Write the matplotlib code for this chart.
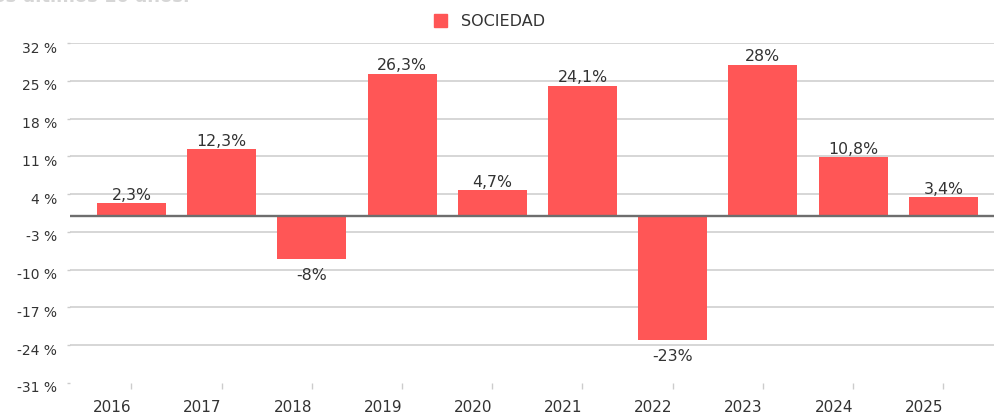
import matplotlib
matplotlib.use("Agg")
import matplotlib.pyplot as plt
import matplotlib.transforms as mtransforms
import numpy as np

years = ["2016", "2017", "2018", "2019", "2020", "2021", "2022", "2023", "2024", "2025"]
values = [2.3, 12.3, -8, 26.3, 4.7, 24.1, -23, 28, 10.8, 3.4]
labels = ["2,3%", "12,3%", "-8%", "26,3%", "4,7%", "24,1%", "-23%", "28%", "10,8%", "3,4%"]
yticks = [32, 25, 18, 11, 4, -3, -10, -17, -24, -31]
series_name = "SOCIEDAD"

plt.rcParams['font.family'] = ['DejaVu Sans']

W, H = 995, 414
fig = plt.figure(figsize=(W / 100, H / 100), dpi=100)
ax_left, ax_right, ax_top, ax_bot = 70, 995, 44, 384
ax = fig.add_axes([ax_left / W, 1 - ax_bot / H, (ax_right - ax_left) / W, (ax_bot - ax_top) / H])

color = "#FF5656"
text_c = "#333333"
grid_c = "#CCCCCC"

x = np.arange(len(years))
ax.bar(x, values, width=0.765, color=color, zorder=2)

step = 90.2
ax.set_xlim((ax_left - 131.5) / step, (ax_right - 131.5) / step)
ax.set_ylim(-31, 32)

for t in yticks:
    if t != -31:
        ax.axhline(t, color=grid_c, lw=1.1, zorder=1)
ax.axhline(0, color="#6E6E6E", lw=1.7, zorder=3)

ax.set_yticks(yticks)
ax.set_yticklabels([f"{t} %" for t in yticks], fontsize=10, color=text_c)
ax.tick_params(axis='y', length=2.5, width=1, color=grid_c, pad=6.8)
down = mtransforms.ScaledTranslation(0, -3 / 100, fig.dpi_scale_trans)
for lbl in ax.get_yticklabels():
    lbl.set_transform(lbl.get_transform() + down)

ax.set_xticks(x)
ax.set_xticklabels(years, fontsize=11, color=text_c, ha='right')
ax.tick_params(axis='x', length=4, width=1, color=grid_c, pad=7.6)

for s in ax.spines.values():
    s.set_visible(False)

for xi, v, l in zip(x, values, labels):
    if v >= 0:
        ax.annotate(l, (xi, v), xytext=(0, 1.2), textcoords='offset points',
                    ha='center', va='bottom', fontsize=11.3, color=text_c, zorder=4)
    else:
        ax.annotate(l, (xi, v), xytext=(0, -6.2), textcoords='offset points',
                    ha='center', va='top', fontsize=11.3, color=text_c, zorder=4)

# legend
fig.patches.append(plt.Rectangle((434 / W, 1 - 28 / H), 13 / W, 13 / H,
                                 transform=fig.transFigure, color=color))
fig.text(461 / W, 1 - 22 / H, series_name, fontsize=11.5, color=text_c,
         va='center', ha='left')

# clipped heading at top (cut off in the reference too)
fig.text(190 / W, 1 - 1.5 / H, "de los últimos 10 años.", fontsize=13, fontweight='bold',
         color="#D6D6D6", ha='right', va='baseline')

fig.savefig("out.png", dpi=100)
